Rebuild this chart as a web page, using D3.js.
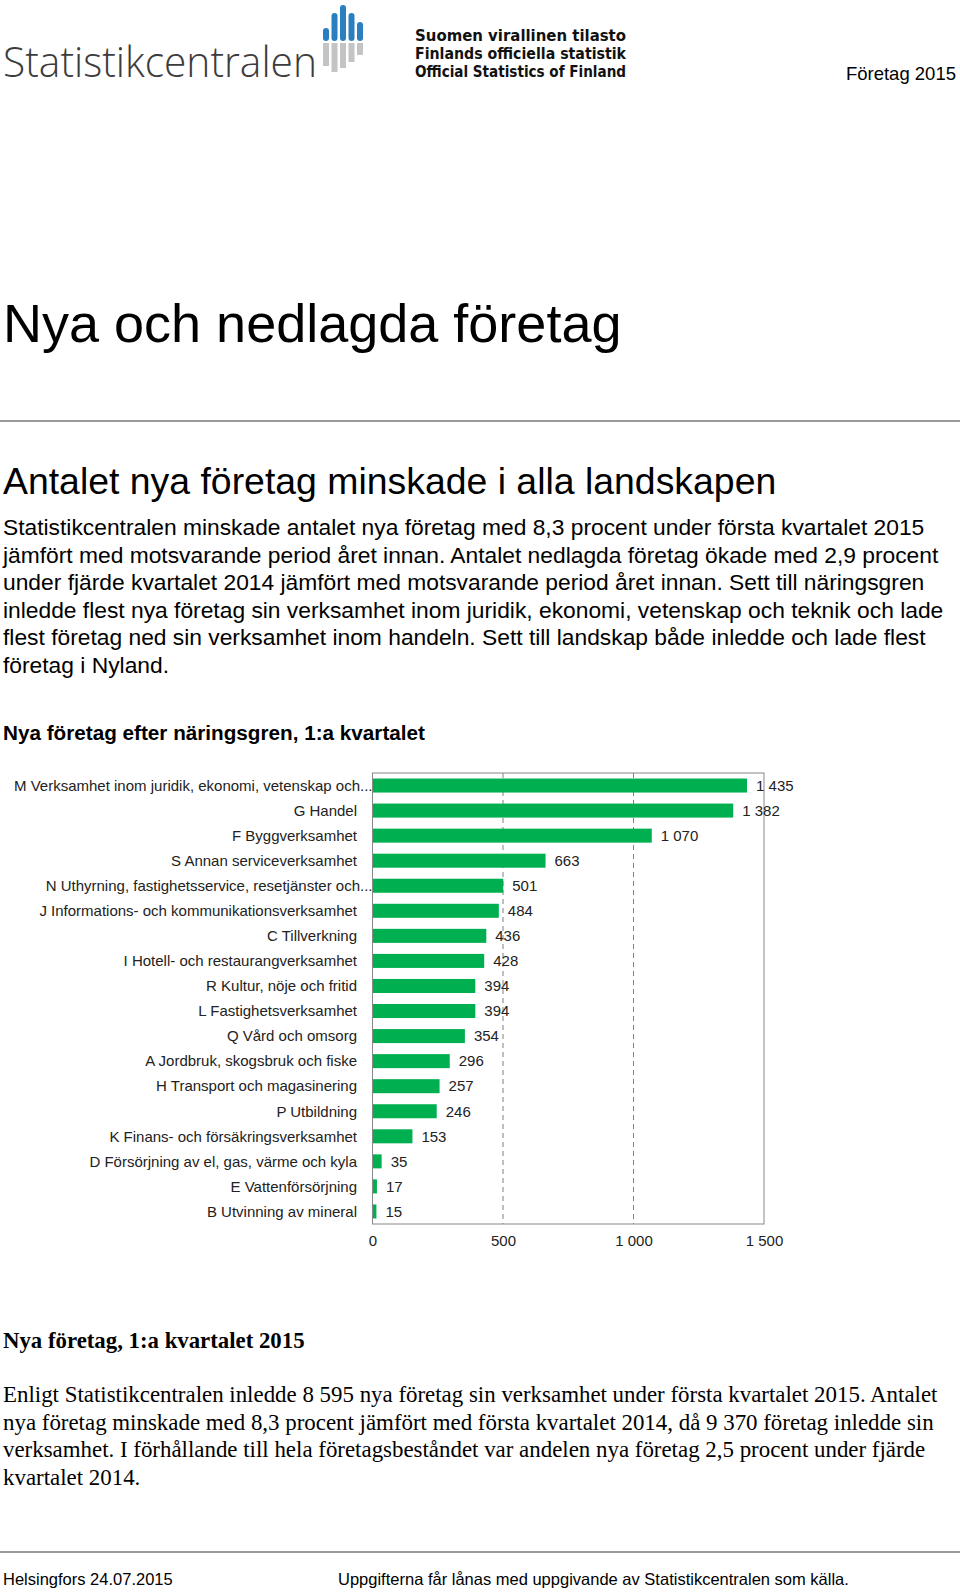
<!DOCTYPE html>
<html>
<head>
<meta charset="utf-8">
<script src="https://cdn.jsdelivr.net/npm/d3@7"></script>
<style>
  body { margin: 0; background: #fff; }
  svg text { font-family: "Liberation Sans", Arial, sans-serif; }
</style>
</head>
<body>
<svg id="page" width="960" height="1592"></svg>
<script>
// chart data
var categories = [
  'M Verksamhet inom juridik, ekonomi, vetenskap och...',
  'G Handel',
  'F Byggverksamhet',
  'S Annan serviceverksamhet',
  'N Uthyrning, fastighetsservice, resetjänster och...',
  'J Informations- och kommunikationsverksamhet',
  'C Tillverkning',
  'I Hotell- och restaurangverksamhet',
  'R Kultur, nöje och fritid',
  'L Fastighetsverksamhet',
  'Q Vård och omsorg',
  'A Jordbruk, skogsbruk och fiske',
  'H Transport och magasinering',
  'P Utbildning',
  'K Finans- och försäkringsverksamhet',
  'D Försörjning av el, gas, värme och kyla',
  'E Vattenförsörjning',
  'B Utvinning av mineral'
];
var values = [1435, 1382, 1070, 663, 501, 484, 436, 428, 394, 394, 354, 296, 257, 246, 153, 35, 17, 15];
var ticks = [0, 500, 1000, 1500];

// page texts
var introLines = [
  'Statistikcentralen minskade antalet nya företag med 8,3 procent under första kvartalet 2015',
  'jämfört med motsvarande period året innan. Antalet nedlagda företag ökade med 2,9 procent',
  'under fjärde kvartalet 2014 jämfört med motsvarande period året innan. Sett till näringsgren',
  'inledde flest nya företag sin verksamhet inom juridik, ekonomi, vetenskap och teknik och lade',
  'flest företag ned sin verksamhet inom handeln. Sett till landskap både inledde och lade flest',
  'företag i Nyland.'
];
var bodyLines = [
  'Enligt Statistikcentralen inledde 8 595 nya företag sin verksamhet under första kvartalet 2015. Antalet',
  'nya företag minskade med 8,3 procent jämfört med första kvartalet 2014, då 9 370 företag inledde sin',
  'verksamhet. I förhållande till hela företagsbeståndet var andelen nya företag 2,5 procent under fjärde',
  'kvartalet 2014.'
];
var officialLines = ['Suomen virallinen tilasto', 'Finlands officiella statistik', 'Official Statistics of Finland'];

var svg = d3.select('#page');
svg.append('rect').attr('width', 960).attr('height', 1592).attr('fill', '#fff');

// ---- header / logo
var logo = svg.append('g');
logo.append('text')
  .attr('x', 3).attr('y', 77)
  .attr('textLength', 314).attr('lengthAdjust', 'spacingAndGlyphs')
  .style('font-family', '"Open Sans", "DejaVu Sans", sans-serif')
  .style('font-weight', 300)
  .style('font-size', '43px')
  .attr('fill', '#3c3c3c')
  .text('Statistikcentralen');

var logoBars = [
  {x: 323, top: 28, bottom: 66},
  {x: 331.5, top: 13, bottom: 72},
  {x: 340, top: 5, bottom: 68},
  {x: 348.5, top: 13, bottom: 62},
  {x: 357, top: 22, bottom: 55}
];
logo.selectAll('rect.blue').data(logoBars).enter().append('rect')
  .attr('x', function(d) { return d.x; })
  .attr('y', function(d) { return d.top; })
  .attr('width', 6).attr('rx', 3)
  .attr('height', function(d) { return 41 - d.top; })
  .attr('fill', '#2a7fc0');
logo.selectAll('rect.gray').data(logoBars).enter().append('rect')
  .attr('x', function(d) { return d.x; })
  .attr('y', 43)
  .attr('width', 6)
  .attr('height', function(d) { return d.bottom - 43; })
  .attr('fill', '#c4c4c4');

logo.selectAll('text.official').data(officialLines).enter().append('text')
  .attr('x', 415)
  .attr('y', function(d, i) { return 41 + i * 18; })
  .attr('textLength', 211).attr('lengthAdjust', 'spacingAndGlyphs')
  .style('font-family', '"DejaVu Sans Condensed", "DejaVu Sans", sans-serif')
  .style('font-stretch', 'condensed')
  .style('font-weight', 'bold')
  .style('font-size', '15px')
  .attr('fill', '#111')
  .text(function(d) { return d; });

svg.append('text')
  .attr('x', 956).attr('y', 80)
  .attr('text-anchor', 'end')
  .style('font-size', '18.5px')
  .text('Företag 2015');

// ---- titles and intro
svg.append('text')
  .attr('x', 3).attr('y', 342)
  .style('font-size', '54px')
  .text('Nya och nedlagda företag');

svg.append('line')
  .attr('x1', 0).attr('x2', 960).attr('y1', 421).attr('y2', 421)
  .attr('stroke', '#999').attr('stroke-width', 2);

svg.append('text')
  .attr('x', 3).attr('y', 494)
  .style('font-size', '37.4px')
  .text('Antalet nya företag minskade i alla landskapen');

svg.selectAll('text.intro').data(introLines).enter().append('text')
  .attr('x', 3)
  .attr('y', function(d, i) { return 535 + i * 27.5; })
  .style('font-size', '22.8px')
  .text(function(d) { return d; });

svg.append('text')
  .attr('x', 3).attr('y', 740)
  .style('font-size', '20.7px')
  .style('font-weight', 'bold')
  .text('Nya företag efter näringsgren, 1:a kvartalet');

// ---- bar chart
var plot = {left: 372.5, right: 764, top: 773, bottom: 1224};
var fmt = d3.formatLocale({decimal: ',', thousands: '\u00a0', grouping: [3], currency: ['', '']}).format(',d');

var x = d3.scaleLinear().domain([0, 1500]).range([plot.left, plot.right]);
var y = d3.scaleBand().domain(categories).range([plot.top, plot.bottom]).paddingInner(0.44).paddingOuter(0.22);

var chart = svg.append('g');

chart.selectAll('line.grid').data(ticks.slice(1, -1)).enter().append('line')
  .attr('x1', function(d) { return x(d); }).attr('x2', function(d) { return x(d); })
  .attr('y1', plot.top).attr('y2', plot.bottom)
  .attr('stroke', '#808080').attr('stroke-dasharray', '5,4');

chart.selectAll('rect.bar').data(values).enter().append('rect')
  .attr('x', x(0))
  .attr('y', function(d, i) { return y(categories[i]); })
  .attr('width', function(d) { return x(d) - x(0); })
  .attr('height', y.bandwidth())
  .attr('fill', '#00b050');

chart.append('rect')
  .attr('x', plot.left).attr('y', plot.top)
  .attr('width', plot.right - plot.left).attr('height', plot.bottom - plot.top)
  .attr('fill', 'none').attr('stroke', '#888');

chart.selectAll('text.val').data(values).enter().append('text')
  .attr('x', function(d) { return x(d) + 9; })
  .attr('y', function(d, i) { return y(categories[i]) + y.bandwidth() / 2; })
  .attr('dy', '0.35em')
  .style('font-size', '15px')
  .attr('fill', '#222')
  .text(function(d) { return fmt(d); });

chart.selectAll('text.cat').data(categories).enter().append('text')
  .attr('x', function(d) { return /\.\.\.$/.test(d) ? plot.left : 357; })
  .attr('y', function(d) { return y(d) + y.bandwidth() / 2; })
  .attr('dy', '0.35em')
  .attr('text-anchor', 'end')
  .style('font-size', '15px')
  .attr('fill', '#222')
  .text(function(d) { return d; });

var xAxis = chart.append('g')
  .attr('transform', 'translate(0,' + plot.bottom + ')')
  .call(d3.axisBottom(x).tickValues(ticks).tickSize(0).tickPadding(11).tickFormat(fmt));
xAxis.select('.domain').remove();
xAxis.selectAll('text')
  .style('font-family', '"Liberation Sans", Arial, sans-serif')
  .style('font-size', '15px')
  .attr('fill', '#222');

// ---- second section, serif
svg.append('text')
  .attr('x', 3).attr('y', 1348)
  .style('font-family', '"Liberation Serif", "Times New Roman", serif')
  .style('font-weight', 'bold')
  .style('font-size', '22.8px')
  .text('Nya företag, 1:a kvartalet 2015');

svg.selectAll('text.body').data(bodyLines).enter().append('text')
  .attr('x', 3)
  .attr('y', function(d, i) { return 1402 + i * 27.5; })
  .style('font-family', '"Liberation Serif", "Times New Roman", serif')
  .style('font-size', '22.9px')
  .text(function(d) { return d; });

// ---- footer
svg.append('line')
  .attr('x1', 0).attr('x2', 960).attr('y1', 1552).attr('y2', 1552)
  .attr('stroke', '#777').attr('stroke-width', 1.5);

svg.append('text')
  .attr('x', 3).attr('y', 1585)
  .style('font-size', '16.5px')
  .text('Helsingfors 24.07.2015');

svg.append('text')
  .attr('x', 338).attr('y', 1585)
  .style('font-size', '16.5px')
  .text('Uppgifterna får lånas med uppgivande av Statistikcentralen som källa.');
</script>
</body>
</html>
